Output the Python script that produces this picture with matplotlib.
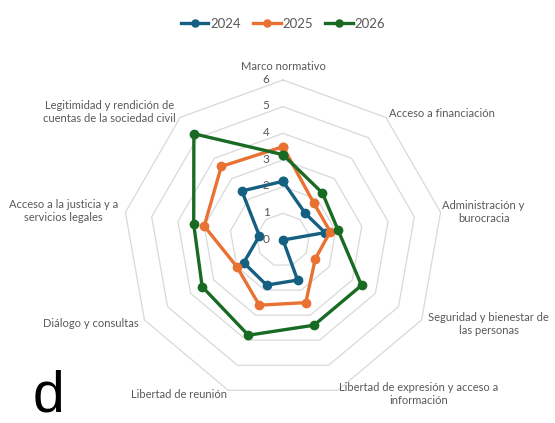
import numpy as np
import matplotlib
matplotlib.use("Agg")
import matplotlib.pyplot as plt
from matplotlib.transforms import offset_copy

plt.rcParams['font.family'] = ['Lato', 'DejaVu Sans']

# categories, clockwise from the top
categories = [
    "Marco normativo",
    "Acceso a financiación",
    "Administración y\nburocracia",
    "Seguridad y bienestar de\nlas personas",
    "Libertad de expresión y acceso a\ninformación",
    "Libertad de reunión",
    "Diálogo y consultas",
    "Acceso a la justicia y a\nservicios legales",
    "Legitimidad y rendición de\ncuentas de la sociedad civil",
]
v2024 = [2.2, 1.3, 1.6, 0.0, 1.6, 1.8, 1.7, 0.9, 2.4]
v2025 = [3.5, 1.8, 1.8, 1.4, 2.5, 2.6, 2.0, 3.0, 3.6]
v2026 = [3.2, 2.3, 2.1, 3.4, 3.4, 3.8, 3.5, 3.4, 5.2]
years = ["2024", "2025", "2026"]
colors = ["#156082", "#E97132", "#196B24"]
rticks = [0, 1, 2, 3, 4, 5, 6]

# label placement: (radius, ha)
label_pos = [
    (6.5, 'center'), (6.2, 'left'), (6.07, 'left'), (6.3, 'left'),
    (6.15, 'left'), (6.15, 'right'), (6.25, 'right'), (6.27, 'right'),
    (6.25, 'right'),
]

W, H = 555, 423
fig = plt.figure(figsize=(W / 100, H / 100), dpi=100)
cx, cy, R = 283, 240, 160
ax = fig.add_axes([(cx - R) / W, (H - cy - R) / H, 2 * R / W, 2 * R / H],
                  projection='polar')
ax.set_theta_zero_location('N')
ax.set_theta_direction(-1)
ax.set_ylim(0, 6)
ax.grid(False)
ax.spines['polar'].set_visible(False)
ax.set_xticks([])
ax.set_yticks([])
ax.patch.set_alpha(0)

n = len(categories)
theta = np.arange(n) * 2 * np.pi / n
theta_c = np.append(theta, theta[0])

# polygon grid
for r in rticks[1:]:
    ax.plot(theta_c, [r] * (n + 1), color="#d9d9d9", lw=0.9, zorder=1,
            clip_on=False)

for vals, c, lab in zip([v2024, v2025, v2026], colors, years):
    vv = np.append(vals, vals[0])
    ax.plot(theta_c, vv, color=c, lw=2.4, marker='o', ms=6, label=lab,
            zorder=3, clip_on=False)

# radial tick labels
tr = offset_copy(ax.transData, fig=fig, x=-17, y=1, units='dots')
for r in rticks:
    ax.text(0, r, str(r), transform=tr, ha='center', va='center',
            fontsize=8.5, color="#595959")

for t, lab, (r, ha) in zip(theta, categories, label_pos):
    ax.text(t, r, lab, ha=ha, va='center', multialignment='center',
            fontsize=8, color="#595959")

fig.legend(loc='upper center', bbox_to_anchor=(cx / W, 1 - 6 / H), ncol=3,
           frameon=False, fontsize=9.5, labelcolor="#595959",
           handlelength=2.1, handletextpad=0.15, columnspacing=0.9,
           markerscale=0.85)

fig.text(33 / W, 1 - 411 / H, "d", fontsize=41, family='Liberation Sans',
         color='black', ha='left', va='baseline')

fig.savefig("out.png", dpi=100)
